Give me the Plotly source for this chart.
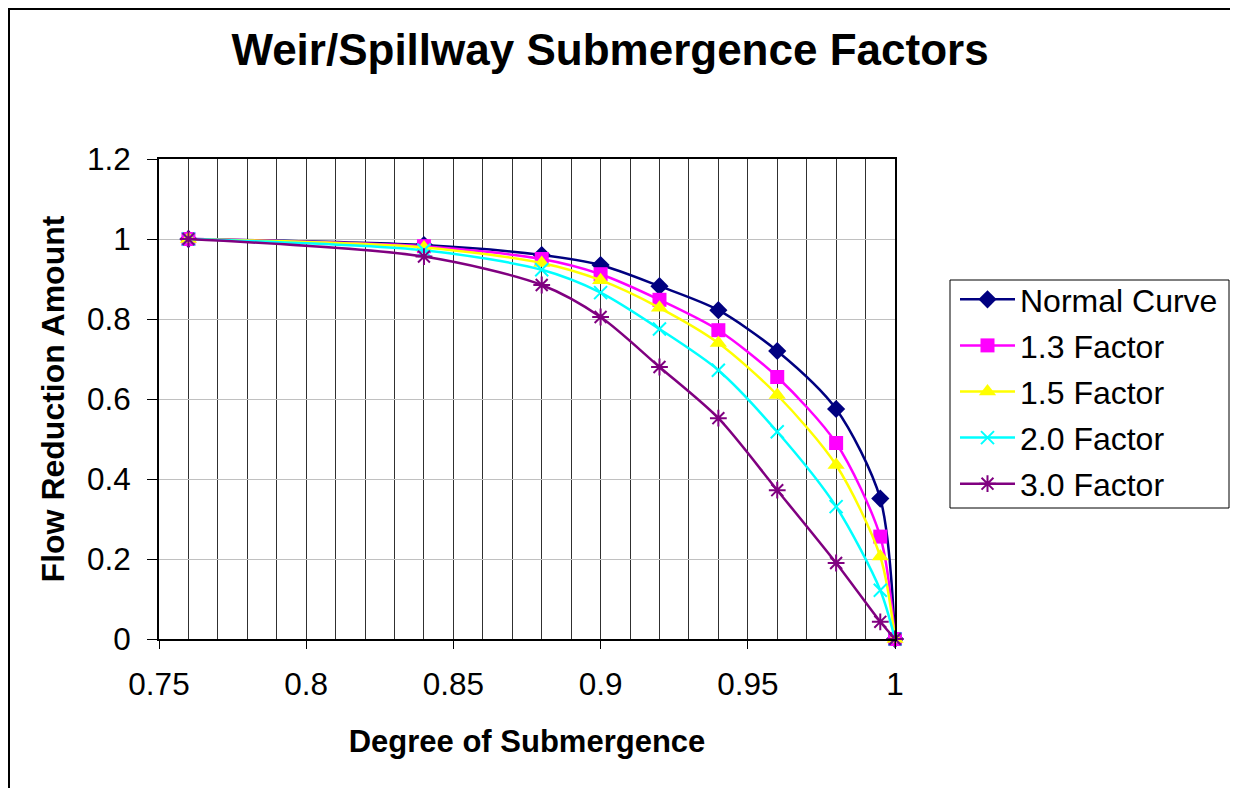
import plotly.graph_objects as go

x_vals = [0.76, 0.84, 0.88, 0.90, 0.92, 0.94, 0.96, 0.98, 0.995, 1.0]
normal_curve = [1.0, 0.985, 0.96, 0.935, 0.882, 0.822, 0.72, 0.575, 0.351, 0.0]
factor_13 = [1.0, 0.982, 0.95, 0.912, 0.848, 0.772, 0.655, 0.49, 0.256, 0.0]
factor_15 = [1.0, 0.979, 0.94, 0.897, 0.828, 0.74, 0.61, 0.435, 0.206, 0.0]
factor_20 = [1.0, 0.972, 0.923, 0.866, 0.775, 0.672, 0.518, 0.331, 0.122, 0.0]
factor_30 = [1.0, 0.956, 0.885, 0.805, 0.68, 0.552, 0.372, 0.19, 0.043, 0.0]

series = [
    ("Normal Curve", normal_curve, "#000080", "diamond", 14),
    ("1.3 Factor", factor_13, "#FF00FF", "square", 14),
    ("1.5 Factor", factor_15, "#FFFF00", "triangle-up", 15),
    ("2.0 Factor", factor_20, "#00FFFF", "x-thin", 13),
    ("3.0 Factor", factor_30, "#800080", "asterisk", 14),
]

fig = go.Figure()
for i, (name, ys, col, sym, sz) in enumerate(series):
    fig.add_trace(go.Scatter(
        x=x_vals, y=ys, name=name, mode="lines+markers",
        legendgroup=f"g{i}",
        line=dict(color=col, width=2.5, shape="spline", smoothing=0.8),
        marker=dict(symbol=sym, size=sz, color=col,
                    line=dict(color=col, width=2 if sym in ("x-thin", "asterisk") else 0)),
        cliponaxis=False,
    ))

font = "Liberation Sans, Arial, sans-serif"

# figure-pixel geometry (page is offset by the 8px body margin)
L, T, R, B = 151, 151, 351, 157
PW, PH = 1238 - L - R, 788 - T - B


def px(xf):
    return (xf - L) / PW


def py(yf):
    return (788 - B - yf) / PH


fig.update_layout(
    width=1238, height=788,
    margin=dict(l=L, r=R, t=T, b=B),
    paper_bgcolor="white", plot_bgcolor="white",
    title=dict(text="<b>Weir/Spillway Submergence Factors</b>",
               font=dict(family=font, size=44, color="black"),
               x=602 / 1238, xanchor="center", y=1 - 42 / 788, yanchor="middle"),
    font=dict(family=font, color="black"),
    legend=dict(x=px(947), xanchor="left", y=py(264), yanchor="top",
                font=dict(family=font, size=32, color="black"),
                borderwidth=0, bgcolor="rgba(0,0,0,0)",
                traceorder="grouped", tracegroupgap=1.5, itemwidth=55),
    xaxis=dict(range=[0.75, 1.0], tickvals=[0.75, 0.8, 0.85, 0.9, 0.95, 1.0],
               ticktext=["0.75", "0.8", "0.85", "0.9", "0.95", "1"],
               showgrid=True, gridcolor="#303030", gridwidth=1,
               minor=dict(dtick=0.01, showgrid=True, gridcolor="#303030", gridwidth=1),
               showline=True, linecolor="black", linewidth=2, mirror=True,
               ticks="outside", ticklen=8, tickcolor="black", tickwidth=1,
               ticklabelstandoff=8,
               tickfont=dict(family=font, size=31.5, color="black"),
               title=dict(text="<b>Degree of Submergence</b>",
                          font=dict(family=font, size=31, color="black"), standoff=30),
               zeroline=False),
    yaxis=dict(range=[0, 1.2], tickvals=[0, 0.2, 0.4, 0.6, 0.8, 1.0, 1.2],
               ticktext=["0", "0.2", "0.4", "0.6", "0.8", "1", "1.2"],
               showgrid=True, gridcolor="#c0c0c0", gridwidth=1,
               showline=True, linecolor="black", linewidth=2, mirror=True,
               ticks="outside", ticklen=10, tickcolor="black", tickwidth=1,
               ticklabelstandoff=10,
               tickfont=dict(family=font, size=31.5, color="black"),
               title=dict(text="<b>Flow Reduction Amount</b>",
                          font=dict(family=font, size=32, color="black"), standoff=13),
               zeroline=False),
    shapes=[
        dict(type="rect", xref="paper", yref="paper",
             x0=px(1), x1=px(1225), y0=-0.6, y1=py(1),
             line=dict(color="black", width=2), layer="below"),
        dict(type="rect", xref="paper", yref="paper",
             x0=px(942), x1=px(1221), y0=py(500), y1=py(272),
             line=dict(color="black", width=1), fillcolor="white", layer="below"),
    ],
)

fig.write_html("out.html")
